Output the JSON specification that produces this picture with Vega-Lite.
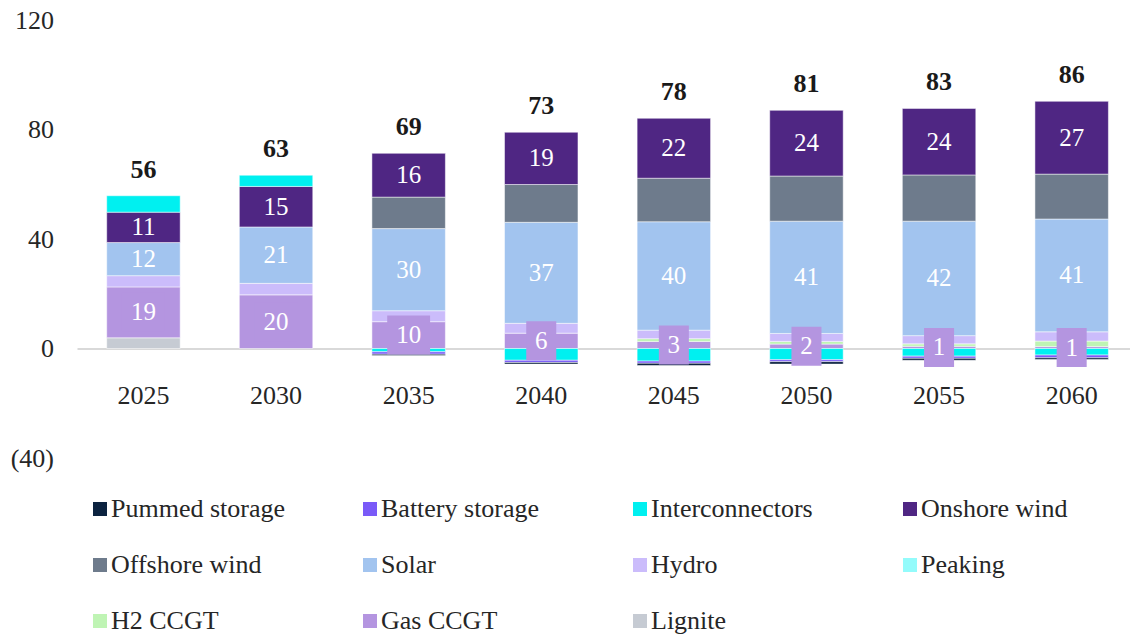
{
  "$schema": "https://vega.github.io/schema/vega-lite/v6.json",
  "width": 1053,
  "height": 438,
  "autosize": {"type": "none"},
  "padding": {"left": 77, "top": 20, "right": 0, "bottom": 179},
  "background": "white",
  "config": {"view": {"stroke": null}, "font": "Liberation Serif"},
  "datasets": {
    "stackOrder": [
      {"series": "Lignite", "rank": 1},
      {"series": "Gas CCGT", "rank": 2},
      {"series": "H2 CCGT", "rank": 3},
      {"series": "Peaking", "rank": 4},
      {"series": "Hydro", "rank": 5},
      {"series": "Solar", "rank": 6},
      {"series": "Offshore wind", "rank": 7},
      {"series": "Onshore wind", "rank": 8},
      {"series": "Interconnectors", "rank": 9},
      {"series": "Battery storage", "rank": 10},
      {"series": "Pummed storage", "rank": 11}
    ]
  },
  "data": {
    "values": [
      {"year": "2025", "series": "Lignite", "value": 3.9},
      {"year": "2025", "series": "Gas CCGT", "value": 18.6},
      {"year": "2025", "series": "Hydro", "value": 4.1},
      {"year": "2025", "series": "Solar", "value": 12.1},
      {"year": "2025", "series": "Onshore wind", "value": 11.1},
      {"year": "2025", "series": "Interconnectors", "value": 6.0},
      {"year": "2030", "series": "Gas CCGT", "value": 19.6},
      {"year": "2030", "series": "Hydro", "value": 4.2},
      {"year": "2030", "series": "Solar", "value": 20.6},
      {"year": "2030", "series": "Onshore wind", "value": 14.8},
      {"year": "2030", "series": "Interconnectors", "value": 4.1},
      {"year": "2035", "series": "Gas CCGT", "value": 9.8},
      {"year": "2035", "series": "Hydro", "value": 4.0},
      {"year": "2035", "series": "Solar", "value": 30.0},
      {"year": "2035", "series": "Offshore wind", "value": 11.5},
      {"year": "2035", "series": "Onshore wind", "value": 16.0},
      {"year": "2035", "series": "Interconnectors", "value": -1.2},
      {"year": "2035", "series": "Battery storage", "value": -0.9},
      {"year": "2035", "series": "Pummed storage", "value": -0.5},
      {"year": "2040", "series": "Gas CCGT", "value": 5.6},
      {"year": "2040", "series": "Hydro", "value": 3.6},
      {"year": "2040", "series": "Solar", "value": 36.9},
      {"year": "2040", "series": "Offshore wind", "value": 13.8},
      {"year": "2040", "series": "Onshore wind", "value": 19.1},
      {"year": "2040", "series": "Interconnectors", "value": -4.3},
      {"year": "2040", "series": "Battery storage", "value": -0.8},
      {"year": "2040", "series": "Pummed storage", "value": -0.6},
      {"year": "2045", "series": "Gas CCGT", "value": 2.6},
      {"year": "2045", "series": "H2 CCGT", "value": 1.0},
      {"year": "2045", "series": "Hydro", "value": 3.1},
      {"year": "2045", "series": "Solar", "value": 39.6},
      {"year": "2045", "series": "Offshore wind", "value": 15.9},
      {"year": "2045", "series": "Onshore wind", "value": 21.9},
      {"year": "2045", "series": "Interconnectors", "value": -4.6},
      {"year": "2045", "series": "Battery storage", "value": -0.8},
      {"year": "2045", "series": "Pummed storage", "value": -0.8},
      {"year": "2050", "series": "Gas CCGT", "value": 1.6},
      {"year": "2050", "series": "H2 CCGT", "value": 1.0},
      {"year": "2050", "series": "Hydro", "value": 2.9},
      {"year": "2050", "series": "Solar", "value": 41.0},
      {"year": "2050", "series": "Offshore wind", "value": 16.5},
      {"year": "2050", "series": "Onshore wind", "value": 24.0},
      {"year": "2050", "series": "Interconnectors", "value": -4.1},
      {"year": "2050", "series": "Battery storage", "value": -0.7},
      {"year": "2050", "series": "Pummed storage", "value": -0.9},
      {"year": "2055", "series": "Gas CCGT", "value": 0.8},
      {"year": "2055", "series": "H2 CCGT", "value": 0.9},
      {"year": "2055", "series": "Hydro", "value": 3.0},
      {"year": "2055", "series": "Solar", "value": 41.8},
      {"year": "2055", "series": "Offshore wind", "value": 16.9},
      {"year": "2055", "series": "Onshore wind", "value": 24.3},
      {"year": "2055", "series": "Interconnectors", "value": -2.8},
      {"year": "2055", "series": "Battery storage", "value": -0.8},
      {"year": "2055", "series": "Pummed storage", "value": -0.7},
      {"year": "2060", "series": "Gas CCGT", "value": 0.7},
      {"year": "2060", "series": "H2 CCGT", "value": 2.0},
      {"year": "2060", "series": "Hydro", "value": 3.4},
      {"year": "2060", "series": "Solar", "value": 41.2},
      {"year": "2060", "series": "Offshore wind", "value": 16.4},
      {"year": "2060", "series": "Onshore wind", "value": 26.6},
      {"year": "2060", "series": "Interconnectors", "value": -2.4},
      {"year": "2060", "series": "Battery storage", "value": -1.0},
      {"year": "2060", "series": "Pummed storage", "value": -0.6}
    ]
  },
  "transform": [
    {"lookup": "series", "from": {"data": {"name": "stackOrder"}, "key": "series", "fields": ["rank"]}}
  ],
  "encoding": {
    "x": {
      "field": "year",
      "type": "nominal",
      "scale": {"paddingInner": 0.446, "paddingOuter": 0.1935, "align": 0.579},
      "axis": {
        "title": null,
        "labelAngle": 0,
        "offset": -109.5,
        "domainColor": "#d9d9d9",
        "domainWidth": 2,
        "ticks": false,
        "tickSize": 0,
        "labelPadding": 47,
        "labelBaseline": "middle",
        "labelFontSize": 26,
        "labelColor": "#262626",
        "labelFont": "Liberation Serif"
      }
    }
  },
  "layer": [
    {
      "mark": {"type": "bar", "stroke": "white", "strokeWidth": 0.5},
      "encoding": {
        "y": {
          "field": "value",
          "type": "quantitative",
          "stack": "zero",
          "scale": {"domain": [-40, 120], "nice": false},
          "axis": {
            "title": null,
            "values": [-40, 0, 40, 80, 120],
            "labelExpr": "datum.value < 0 ? '(' + format(-datum.value, 'd') + ')' : datum.label + '\u00a0'",
            "domain": false,
            "ticks": false,
            "tickSize": 0,
            "grid": false,
            "labelPadding": 23.5,
            "labelFontSize": 26,
            "labelColor": "#262626",
            "labelFont": "Liberation Serif"
          }
        },
        "order": {"field": "rank", "type": "quantitative", "sort": "ascending"},
        "color": {
          "field": "series",
          "type": "nominal",
          "sort": ["Pummed storage", "Battery storage", "Interconnectors", "Onshore wind", "Offshore wind", "Solar", "Hydro", "Peaking", "H2 CCGT", "Gas CCGT", "Lignite"],
          "scale": {
            "domain": ["Pummed storage", "Battery storage", "Interconnectors", "Onshore wind", "Offshore wind", "Solar", "Hydro", "Peaking", "H2 CCGT", "Gas CCGT", "Lignite"],
            "range": ["#0c2340", "#7a5af8", "#00f0f0", "#4f2683", "#6e7b8c", "#a2c4ef", "#cbbcfb", "#93fbfb", "#bff4b4", "#b495e0", "#c6cbd3"]
          },
          "legend": {
            "orient": "none",
            "legendX": 10,
            "legendY": 476,
            "direction": "horizontal",
            "columns": 4,
            "title": null,
            "symbolType": "square",
            "symbolSize": 196,
            "symbolStrokeWidth": 0,
            "labelFontSize": 26,
            "labelFont": "Liberation Serif",
            "labelColor": "#262626",
            "labelOffset": -2,
            "columnPadding": 71,
            "rowPadding": 30,
            "gridAlign": "all",
            "labelLimit": 300,
            "padding": 0
          }
        }
      }
    },
    {
      "mark": {"type": "point", "filled": true, "size": 1521, "strokeWidth": 0, "color": "#b495e0"},
      "encoding": {
        "y": {"field": "value", "type": "quantitative", "stack": "zero", "bandPosition": 0.5},
        "detail": {"field": "series", "type": "nominal"},
        "order": {"field": "rank", "type": "quantitative", "sort": "ascending"},
        "opacity": {"condition": {"test": "datum.series === 'Gas CCGT'", "value": 1}, "value": 0},
        "shape": {"condition": {"test": "datum.value >= 9.5", "value": "M-1.1,-1H1.1V1H-1.1Z"}, "value": "M-0.77,-1H0.77V1H-0.77Z"}
      }
    },
    {
      "mark": {"type": "text", "fontSize": 25, "baseline": "middle", "font": "Liberation Serif", "color": "white"},
      "encoding": {
        "y": {"field": "value", "type": "quantitative", "stack": "zero", "bandPosition": 0.5},
        "detail": {"field": "series", "type": "nominal"},
        "order": {"field": "rank", "type": "quantitative", "sort": "ascending"},
        "text": {
          "condition": {"test": "datum.series === 'Gas CCGT' || datum.series === 'Solar' || datum.series === 'Onshore wind'", "field": "value", "type": "quantitative", "format": ".0f"},
          "value": ""
        }
      }
    },
    {
      "transform": [
        {"joinaggregate": [{"op": "sum", "field": "value", "as": "net"}], "groupby": ["year"]},
        {"filter": "datum.value > 0"},
        {"aggregate": [{"op": "sum", "field": "value", "as": "pos"}], "groupby": ["year", "net"]}
      ],
      "mark": {"type": "text", "fontSize": 26, "fontWeight": "bold", "dy": -26, "baseline": "middle", "color": "#1a1a1a", "font": "Liberation Serif"},
      "encoding": {
        "y": {"field": "pos", "type": "quantitative"},
        "text": {"field": "net", "type": "quantitative", "format": ".0f"}
      }
    }
  ]
}
